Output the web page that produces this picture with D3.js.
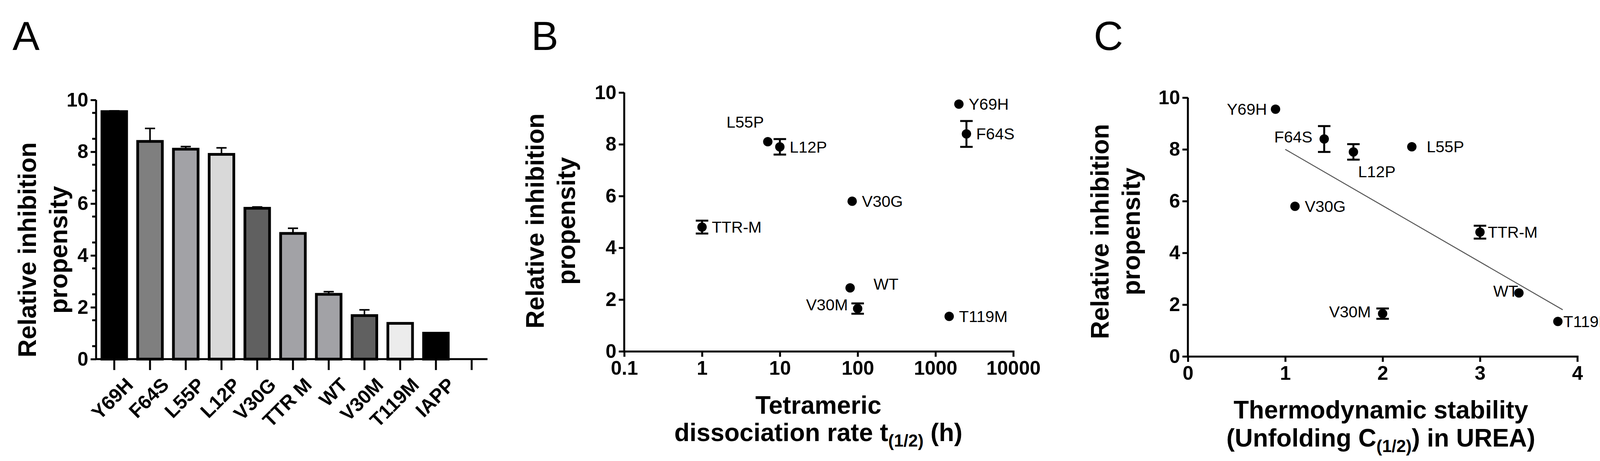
<!DOCTYPE html>
<html><head><meta charset="utf-8">
<script src="https://cdn.jsdelivr.net/npm/d3@7"></script>
<style>
body{margin:0;background:#fff}
text{font-family:Arial,"Liberation Sans",sans-serif;fill:#000}
.axis text{font-weight:bold;font-size:50px}
.axis path,.axis line{stroke:#000;stroke-width:5}
.lab{font-size:41px}
.title{font-weight:bold;font-size:64px}
.panel{font-size:104px}
</style></head><body>
<svg id="c" width="4157" height="1181"></svg>
<script>
// Panel A: bar chart
const barNames = ["Y69H","F64S","L55P","L12P","V30G","TTR M","WT","V30M","T119M","IAPP"];
const barValues = [9.55,8.4,8.1,7.9,5.82,4.85,2.5,1.68,1.38,1.0];
const barErrors = [0.03,0.5,0.1,0.25,0.05,0.2,0.1,0.22,0,0];
const barFills = ["#000","#7f7f7f","#a2a2a6","#d9d9d9","#606060","#a2a2a6","#a2a2a6","#606060","#ececec","#000"];

// Panel B / C: mutants
const mutants = ["Y69H","F64S","L55P","L12P","V30G","TTR-M","WT","V30M","T119M"];
const propensity = [9.55,8.4,8.1,7.9,5.8,4.8,2.45,1.65,1.35];
const propErr = [0,0.5,0,0.3,0,0.25,0,0.2,0];
const dissocRate = [2000,2500,7,10,85,1,80,100,1500];
const stability = [0.9,1.4,2.3,1.7,1.1,3.0,3.4,2.0,3.8];
const fitLine = [[1.0,8.0],[3.85,1.8]];
const yTicks = [0,2,4,6,8,10];
const logTicks = [0.1,1,10,100,1000,10000];
const linTicks = [0,1,2,3,4];

// label placement [dx, dy, anchor]
const labB = {"Y69H":[25,0,"start"],"F64S":[25,0,"start"],"L55P":[-10,-50,"end"],"L12P":[25,0,"start"],"V30G":[25,0,"start"],"TTR-M":[25,0,"start"],"WT":[60,-10,"start"],"V30M":[-25,-10,"end"],"T119M":[25,0,"start"]};
const labC = {"Y69H":[-22,0,"end"],"F64S":[-30,-5,"end"],"L55P":[38,0,"start"],"L12P":[12,50,"start"],"V30G":[25,0,"start"],"TTR-M":[20,0,"start"],"WT":[-2,-5,"end"],"V30M":[-30,-5,"end"],"T119M":[14,0,"start"]};

const svg = d3.select("#c");

function yAxis(g, y, minor) {
  g.attr("class","axis").call(d3.axisLeft(y).tickValues(yTicks).tickFormat(d3.format("d")).tickSize(14).tickPadding(6));
  g.select(".domain").attr("d", `M0,${y(0)}V${y(10)}`);
  if (minor) g.selectAll(".mn").data(d3.range(0.5,10,1)).join("line").attr("class","mn")
    .attr("x1",-10).attr("x2",0).attr("y1",d=>y(d)).attr("y2",d=>y(d)).attr("stroke","#000").attr("stroke-width",4);
}

function ylabel(cx, cy) {
  const t = svg.append("text").attr("class","title").attr("transform",`translate(${cx},${cy}) rotate(-90)`).attr("text-anchor","middle");
  t.append("tspan").attr("x",0).attr("dy",0).text("Relative inhibition");
  t.append("tspan").attr("x",0).attr("dy",80).text("propensity");
}

// ---- A ----
{
  const y = d3.scaleLinear().domain([0,10]).range([920,256]);
  const x = d3.scaleBand().domain(d3.range(11)).range([250,1250]).paddingInner(0.31).paddingOuter(0.12);
  const g = svg.append("g");
  g.selectAll(".bar").data(barValues).join("rect")
    .attr("x",(d,i)=>x(i)).attr("width",x.bandwidth()).attr("y",d=>y(d)).attr("height",d=>y(0)-y(d))
    .attr("fill",(d,i)=>barFills[i]).attr("stroke","#000").attr("stroke-width",7);
  g.selectAll(".eb").data(barValues).join("path").attr("fill","none").attr("stroke","#000").attr("stroke-width",4)
    .attr("d",(d,i)=>{ if(!barErrors[i]) return null; const cx=x(i)+x.bandwidth()/2;
      return `M${cx},${y(d)}V${y(d+barErrors[i])}M${cx-13},${y(d+barErrors[i])}H${cx+13}`;});
  svg.append("g").attr("transform","translate(246,0)").call(g=>yAxis(g,y,true));
  const xa = svg.append("g").attr("class","axis").attr("transform",`translate(0,${y(0)})`)
    .call(d3.axisBottom(x).tickFormat(i=>barNames[i]||"").tickSize(28).tickPadding(10));
  xa.select(".domain").attr("d","M246,0H1248");
  xa.selectAll(".tick text").attr("text-anchor","end").attr("transform","translate(12,30) rotate(-45)").attr("dy","0.35em");
  ylabel(92, 640);
  svg.append("text").attr("class","panel").attr("x",32).attr("y",128).text("A");
}

function scatter(x, xs, labs) {
  const y = d3.scaleLinear().domain([0,10]).range([x.y0,x.y1]);
  const g = svg.append("g");
  g.selectAll(".eb").data(propensity).join("path").attr("fill","none").attr("stroke","#000").attr("stroke-width",5)
    .attr("d",(d,i)=>{ if(!propErr[i]) return null; const cx=x.s(xs[i]);
      return `M${cx},${y(d-propErr[i])}V${y(d+propErr[i])}M${cx-16},${y(d-propErr[i])}H${cx+16}M${cx-16},${y(d+propErr[i])}H${cx+16}`;});
  g.selectAll("circle").data(propensity).join("circle").attr("cx",(d,i)=>x.s(xs[i])).attr("cy",d=>y(d)).attr("r",12).attr("fill","#000");
  g.selectAll(".lab").data(mutants).join("text").attr("class","lab")
    .attr("x",(d,i)=>x.s(xs[i])+labs[d][0]).attr("y",(d,i)=>y(propensity[i])+labs[d][1])
    .attr("dy","0.35em").attr("text-anchor",d=>labs[d][2]).text(d=>d);
  svg.append("g").attr("transform",`translate(${x.s.range()[0]},0)`).call(g=>yAxis(g,y,false));
  return y;
}

// ---- B ----
{
  const s = d3.scaleLog().domain([0.1,10000]).range([1598,2594]);
  const y = scatter({s, y0:900, y1:237}, dissocRate, labB);
  svg.append("g").attr("class","axis").attr("transform","translate(0,900)")
    .call(d3.axisBottom(s).tickValues(logTicks).tickFormat(d=>String(d)).tickSize(14).tickPadding(10));
  ylabel(1392, 566);
  const t = svg.append("text").attr("class","title").attr("text-anchor","middle");
  t.append("tspan").attr("x",2095).attr("y",1060).text("Tetrameric");
  t.append("tspan").attr("x",2095).attr("y",1130).text("dissociation rate t");
  t.append("tspan").attr("dy",14).attr("font-size",44).text("(1/2)");
  t.append("tspan").attr("dy",-14).text(" (h)");
  svg.append("text").attr("class","panel").attr("x",1360).attr("y",128).text("B");
}

// ---- C ----
{
  const s = d3.scaleLinear().domain([0,4]).range([3041,4038]);
  const y = scatter({s, y0:913, y1:250}, stability, labC);
  svg.append("path").datum(fitLine).attr("fill","none").attr("stroke","#555").attr("stroke-width",2.5)
    .attr("d",d3.line().x(d=>s(d[0])).y(d=>y(d[1])));
  svg.append("g").attr("class","axis").attr("transform","translate(0,913)")
    .call(d3.axisBottom(s).tickValues(linTicks).tickFormat(d3.format("d")).tickSize(14).tickPadding(10));
  ylabel(2838, 593);
  const t = svg.append("text").attr("class","title").attr("text-anchor","middle");
  t.append("tspan").attr("x",3535).attr("y",1072).text("Thermodynamic stability");
  t.append("tspan").attr("x",3535).attr("y",1144).text("(Unfolding C");
  t.append("tspan").attr("dy",14).attr("font-size",44).text("(1/2)");
  t.append("tspan").attr("dy",-14).text(") in UREA)");
  svg.append("text").attr("class","panel").attr("x",2800).attr("y",128).text("C");
}
</script>
</body></html>
